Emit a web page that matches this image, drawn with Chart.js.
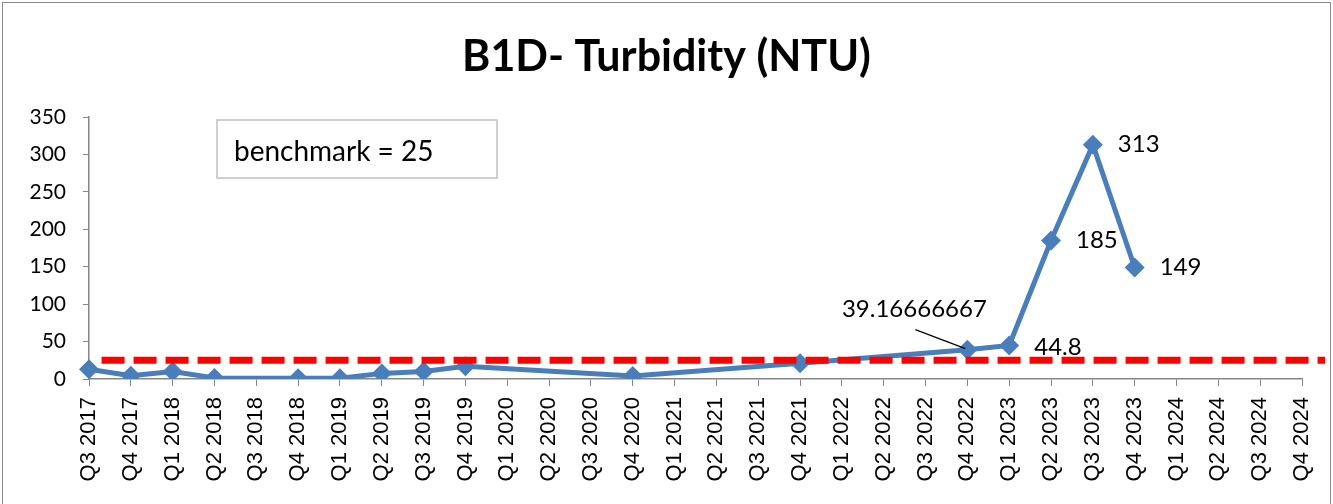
<!DOCTYPE html>
<html>
<head>
<meta charset="utf-8">
<script src="https://cdn.jsdelivr.net/npm/chart.js@4.4.1/dist/chart.umd.min.js"></script>
<style>
  html, body { margin: 0; padding: 0; background: #fff; }
  #wrap { width: 1333px; height: 504px; position: relative; }
</style>
</head>
<body>
<div id="wrap"><canvas id="c" width="1333" height="504"></canvas></div>
<script>
// ---- data ----
const categories = ['Q3 2017','Q4 2017','Q1 2018','Q2 2018','Q3 2018','Q4 2018','Q1 2019','Q2 2019','Q3 2019','Q4 2019',
  'Q1 2020','Q2 2020','Q3 2020','Q4 2020','Q1 2021','Q2 2021','Q3 2021','Q4 2021','Q1 2022','Q2 2022',
  'Q3 2022','Q4 2022','Q1 2023','Q2 2023','Q3 2023','Q4 2023','Q1 2024','Q2 2024','Q3 2024','Q4 2024'];
const turbidity = [13, 4.5, 10, 1.5, null, 1, 1, 7.5, 10, 17,
  null, null, null, 4, null, null, null, 21, null, null,
  null, 39.16666667, 44.8, 185, 313, 149, null, null, null, null];
const benchmark = 25;
const benchmarkSpan = [0.3, 29.55]; // extent of the benchmark line in category-index units
const labeledCategories = ['Q4 2022','Q1 2023','Q2 2023','Q3 2023','Q4 2023'];
const yTicks = { min: 0, max: 350, step: 50 };
const titleText = 'B1D- Turbidity (NTU)';

const GREY = '#868686';
const BLUE = '#4A7EBB';

const framePlugin = {
  id: 'frame',
  beforeDraw(chart) {
    const ctx = chart.ctx;
    ctx.save();
    ctx.fillStyle = '#fff';
    ctx.fillRect(0, 0, chart.width, chart.height);
    ctx.strokeStyle = '#8c8c8c';
    ctx.lineWidth = 1;
    ctx.strokeRect(2.5, 2.5, 1328, 560);
    ctx.restore();
  }
};

const annotPlugin = {
  id: 'annot',
  afterDatasetsDraw(chart) {
    const ctx = chart.ctx;
    const meta = chart.getDatasetMeta(1);
    ctx.save();
    ctx.fillStyle = '#000';
    ctx.font = '24px Lato';
    ctx.textBaseline = 'middle';
    labeledCategories.forEach(cat => {
      const i = categories.indexOf(cat);
      const v = turbidity[i];
      const pt = meta.data[i];
      if (v == null || !pt) return;
      const txt = String(v);
      if (i === 21) {
        ctx.textAlign = 'center';
        ctx.fillText(txt, pt.x - 53, pt.y - 40);
        ctx.strokeStyle = '#000';
        ctx.lineWidth = 1.2;
        ctx.beginPath();
        ctx.moveTo(pt.x - 52, pt.y - 20);
        ctx.lineTo(pt.x - 2, pt.y - 1);
        ctx.stroke();
      } else {
        ctx.textAlign = 'left';
        ctx.fillText(txt, pt.x + 25, pt.y + (i === 22 ? 2 : 0));
      }
    });
    // benchmark text box
    ctx.strokeStyle = '#c0c0c0';
    ctx.lineWidth = 1.5;
    ctx.strokeRect(217, 120, 280, 58);
    ctx.textAlign = 'left';
    ctx.font = '28px Lato';
    ctx.fillText('benchmark = ' + benchmark, 234, 152);
    ctx.restore();
  }
};

new Chart(document.getElementById('c'), {
  type: 'line',
  data: {
    labels: categories,
    datasets: [
      {
        label: 'benchmark',
        data: benchmarkSpan.map(x => ({ x: x, y: benchmark })),
        xAxisID: 'xb',
        borderColor: '#FF0000',
        borderWidth: 7,
        borderDash: [23, 9],
        pointRadius: 0,
        fill: false,
        clip: false,
        order: 0
      },
      {
        label: 'Turbidity',
        data: turbidity,
        xAxisID: 'x',
        borderColor: BLUE,
        backgroundColor: BLUE,
        borderWidth: 5,
        pointStyle: 'rectRot',
        pointRadius: 10,
        pointBorderWidth: 0,
        pointBackgroundColor: BLUE,
        spanGaps: true,
        tension: 0,
        fill: false,
        order: 1
      }
    ]
  },
  options: {
    responsive: false,
    animation: false,
    devicePixelRatio: 1,
    layout: { padding: 0 },
    plugins: {
      legend: { display: false },
      tooltip: { enabled: false },
      title: {
        display: true,
        text: titleText,
        color: '#000',
        font: { family: 'Lato', size: 43, weight: 'bold', lineHeight: 1.2 },
        padding: { top: 31, bottom: 34.4 }
      }
    },
    scales: {
      x: {
        type: 'category',
        offset: false,
        grid: { offset: false, drawOnChartArea: false, drawTicks: true, tickLength: 7, color: GREY },
        border: { color: GREY, width: 1.5 },
        ticks: {
          autoSkip: false, minRotation: 90, maxRotation: 90, padding: 11,
          color: '#000', font: { family: 'Liberation Sans', size: 22 }
        },
        afterFit(s) { s.height = 125; s.paddingLeft = 0; s.paddingRight = 0; }
      },
      xb: {
        type: 'linear',
        display: false,
        min: 0,
        max: categories.length - 1
      },
      y: {
        min: yTicks.min, max: yTicks.max,
        grid: { drawOnChartArea: false, drawTicks: true, tickLength: 6, color: GREY },
        border: { color: GREY, width: 1.5 },
        ticks: { stepSize: yTicks.step, padding: 17, color: '#000', font: { family: 'Lato', size: 21 } },
        afterFit(s) { s.width = 89; }
      },
      yr: {
        position: 'right',
        display: true,
        min: yTicks.min, max: yTicks.max,
        grid: { display: false, drawTicks: false },
        border: { display: false },
        ticks: { display: false },
        afterFit(s) { s.width = 31; }
      }
    }
  },
  plugins: [framePlugin, annotPlugin]
});
</script>
</body>
</html>
